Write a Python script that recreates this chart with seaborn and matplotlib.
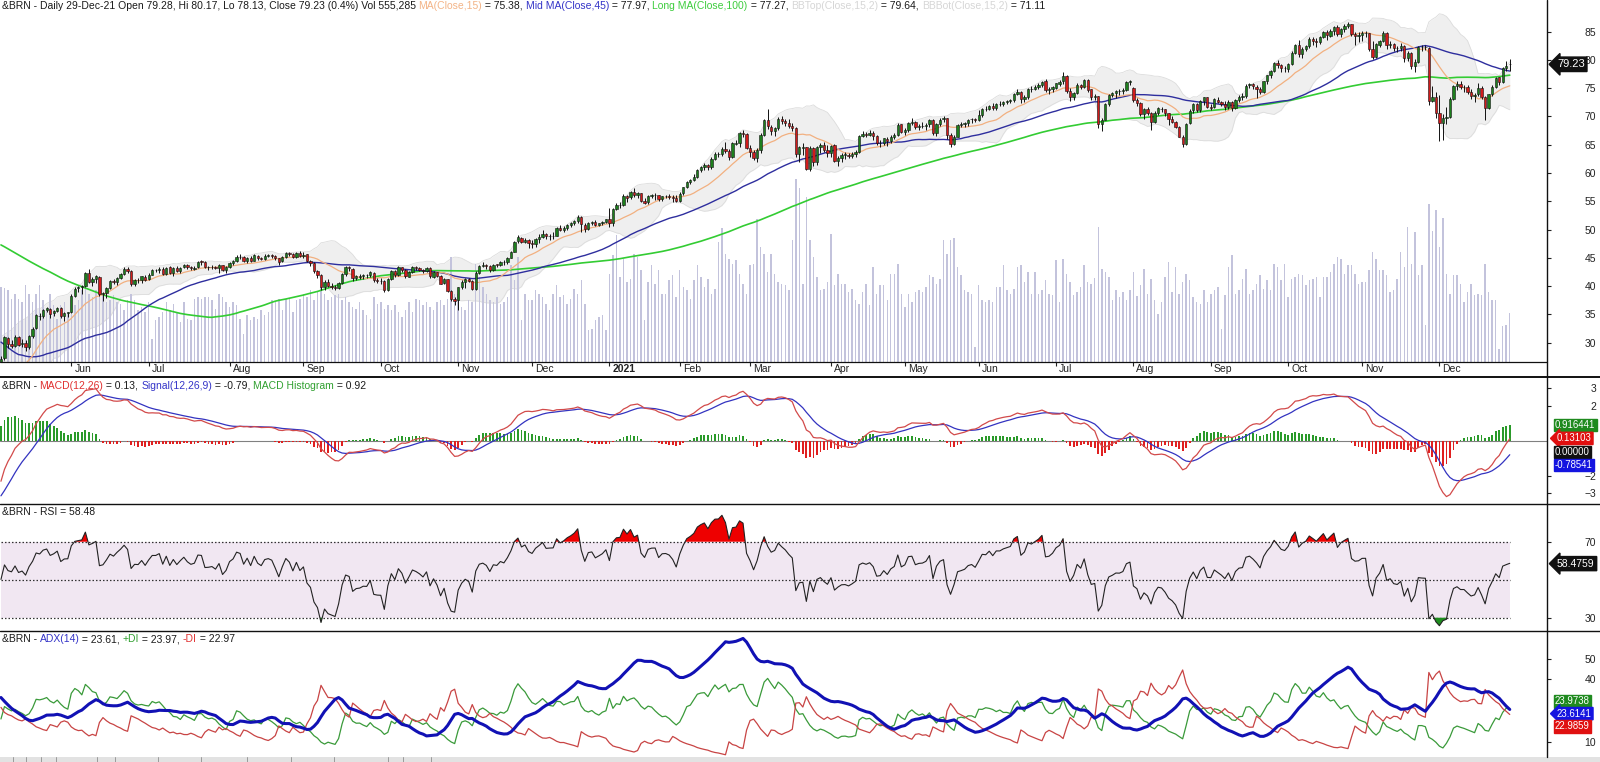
import numpy as np
import pandas as pd
import matplotlib
matplotlib.use("Agg")
import matplotlib.pyplot as plt
from matplotlib.lines import Line2D
from matplotlib.patches import Rectangle
import seaborn as sns

# ---------------- data (warm-up values estimated from the indicator start levels) -------------
warmup_close = [
    64.25, 64.34, 63.72, 64.20, 65.22, 65.34, 66.10, 66.17, 66.54, 66.14, 66.39, 67.20, 67.92, 68.16, 68.44, 66.00,
    66.25, 68.60, 68.91, 68.27, 65.44, 65.37, 64.98, 64.20, 64.49, 64.00, 64.62, 64.85, 65.20, 64.59, 63.21, 62.04,
    60.69, 59.32, 59.51, 59.81, 58.29, 58.16,
    54.45, 53.96, 55.28, 54.93, 54.47, 53.27, 54.01, 55.79, 56.34, 57.32, 57.67, 57.75, 59.12, 59.31, 58.50, 56.30,
    54.95, 53.43, 52.18, 50.52,
    51.90, 51.86, 51.13, 49.99, 45.27, 34.36, 37.22, 35.79, 33.22, 33.85, 30.05, 28.73, 24.88, 28.47, 26.98, 27.03,
    27.15, 27.39, 26.34, 24.93, 22.76, 22.74,
    24.74, 29.94, 34.11, 33.05, 31.87, 32.84, 31.48, 31.74, 29.60, 27.69, 27.82, 28.08, 25.57, 19.33, 20.37, 21.33,
    21.44, 19.99, 20.46, 22.54, 25.27, 26.44]
# highs / lows of the last 40 warm-up sessions (for the ADX start)
warmup_high = [50.0, 35.8, 38.2, 37.9, 35.2, 35.8, 33.1, 30.8, 29.4, 28.8, 30.0, 28.3, 28.2, 29.0, 27.8, 26.9, 25.1, 24.1,
               25.4, 30.2, 35.4, 34.4, 34.4, 33.7, 36.0, 33.0, 31.9, 29.6, 28.8, 28.9, 28.0, 25.2, 21.8, 22.1, 22.0, 21.5,
               21.0, 23.0, 26.4, 27.2]
warmup_low = [44.8, 31.0, 33.8, 35.2, 32.3, 31.7, 29.5, 28.4, 24.5, 24.5, 26.4, 25.2, 26.3, 26.7, 25.9, 24.6, 21.7, 21.6,
              23.6, 24.6, 29.9, 31.9, 31.3, 30.7, 31.3, 30.8, 29.4, 27.2, 26.8, 26.3, 25.1, 15.98, 18.6, 19.6, 20.4, 19.1,
              17.9, 20.4, 22.6, 25.3]

close = [
    27.20, 30.97, 29.72, 29.46, 30.97, 29.63, 29.98, 29.19, 31.13, 32.50, 34.81, 34.65, 35.75, 36.06, 35.13, 35.53, 36.17, 34.74, 35.29, 35.33,
    38.32, 39.57, 39.79, 39.99, 42.30, 40.80, 41.18, 41.73, 38.55, 38.73, 39.72, 40.96, 40.71, 41.51, 42.19, 43.08, 42.63, 40.31, 41.05, 41.02, 41.71, 41.15,
    42.03, 42.80, 42.80, 43.10, 42.08, 43.29, 42.35, 43.24, 42.72, 43.29, 43.79, 43.37, 43.14, 43.28, 44.32, 44.29, 43.31, 43.34, 43.41, 43.22, 43.75, 42.94, 43.30,
    44.15, 44.43, 45.17, 45.09, 44.40, 44.99, 44.50, 45.43, 44.96, 44.80, 45.37, 45.46, 45.37, 44.90, 44.35, 45.13, 45.86, 45.64, 45.09, 45.81, 45.28,
    45.58, 44.43, 44.07, 42.66, 42.01, 39.78, 40.79, 40.06, 39.83, 39.61, 40.53, 42.22, 43.30, 43.15, 41.44, 41.72, 41.77, 41.94, 41.92, 42.43, 41.03, 40.95,
    40.93, 39.27, 41.29, 42.65, 41.99, 43.34, 42.85, 41.72, 42.45, 43.32, 43.16, 42.93, 42.62, 43.16, 41.73, 42.46, 41.77, 40.46, 41.20, 39.12, 37.65, 37.46,
    39.81, 40.71, 41.23, 40.93, 39.45, 42.40, 43.61, 43.80, 43.53, 42.78, 43.82, 43.75, 44.34, 44.20, 44.96, 46.06, 47.86, 48.61, 47.80, 48.18, 47.59,
    47.42, 48.25, 48.71, 49.25, 48.79, 48.84, 48.86, 50.25, 49.97, 50.29, 50.76, 51.08, 51.50, 52.26, 50.91, 50.08, 51.20, 51.29, 50.86, 51.09, 51.34, 51.80,
    51.09, 53.60, 54.30, 54.38, 55.99, 55.66, 56.58, 56.06, 56.42, 55.10, 54.75, 55.90, 56.08, 56.10, 55.41, 55.88, 55.91, 55.81, 55.53, 55.04,
    56.35, 57.46, 58.46, 58.84, 59.34, 60.56, 61.09, 61.47, 61.14, 62.43, 63.30, 63.35, 64.34, 63.93, 62.91, 65.24, 65.37, 67.04, 66.88, 64.42,
    63.69, 62.70, 64.07, 66.74, 69.36, 68.24, 67.52, 67.90, 69.63, 69.22, 68.88, 68.39, 68.00, 63.28, 64.53, 64.62, 60.79, 64.41, 61.95, 64.57, 64.98, 64.14, 63.54,
    64.86, 62.15, 62.74, 63.16, 63.20, 62.95, 63.28, 63.67, 66.58, 66.94, 66.77, 67.05, 66.57, 65.32, 65.40, 66.11, 65.65, 66.42, 66.76, 68.56, 67.25,
    67.56, 68.88, 68.96, 68.09, 68.28, 68.32, 68.55, 69.32, 67.05, 68.71, 69.46, 69.71, 66.66, 65.11, 66.44, 68.46, 68.65, 68.87, 69.46, 69.63, 69.32,
    70.25, 71.35, 71.31, 71.89, 71.49, 72.22, 72.22, 72.52, 72.69, 72.86, 73.99, 74.39, 73.08, 73.51, 74.90, 74.81, 75.19, 75.56, 76.18, 74.68, 74.76, 75.13,
    75.84, 76.17, 77.16, 74.53, 73.43, 74.12, 75.55, 75.16, 76.49, 74.76, 73.47, 73.59, 68.62, 69.35, 72.23, 73.79, 74.10, 74.50, 74.48, 74.74, 76.05, 76.33,
    72.89, 72.41, 70.38, 71.29, 70.70, 69.04, 70.63, 71.44, 71.31, 70.59, 69.51, 69.03, 68.23, 66.45, 65.18, 68.75, 71.05, 72.25, 71.07, 72.70, 73.41, 71.63,
    71.59, 73.03, 72.61, 72.22, 71.69, 72.60, 71.45, 72.92, 73.51, 73.60, 75.46, 75.67, 75.34, 74.92, 74.36, 76.19, 77.25, 78.09, 79.53, 79.09, 78.64, 78.52,
    79.28, 81.26, 82.56, 81.08, 81.95, 82.39, 83.65, 83.42, 83.18, 84.00, 84.86, 84.33, 85.08, 85.82, 84.61, 85.53, 85.99, 86.40, 84.58, 84.32, 84.38,
    84.71, 84.72, 81.99, 80.54, 82.74, 83.43, 84.78, 82.64, 82.87, 82.17, 82.05, 82.43, 80.28, 81.24, 78.89, 79.70, 82.31, 82.25, 82.22, 72.72, 73.44, 70.57,
    68.87, 69.67, 69.88, 73.08, 75.44, 75.82, 75.15, 75.15, 74.39, 73.70, 73.88, 75.02, 73.52, 71.52, 73.98, 75.29, 76.85, 76.14, 78.60, 78.94, 79.23]

open_ = [
    26.4, 27.3, 30.9, 29.8, 29.5, 31.0, 29.7, 30.0, 29.2, 31.1, 32.6, 34.8, 34.7, 35.8, 36.0, 35.2, 35.6, 36.1, 34.7, 35.3,
    35.4, 38.3, 39.6, 39.8, 40.0, 42.3, 40.8, 41.2, 41.7, 38.6, 38.7, 39.7, 40.9, 40.7, 41.5, 42.2, 43.1, 42.6, 40.3, 41.0, 41.0, 41.7,
    41.2, 42.0, 42.8, 42.8, 43.1, 42.1, 43.3, 42.4, 43.2, 42.7, 43.3, 43.8, 43.4, 43.1, 43.3, 44.3, 44.3, 43.3, 43.3, 43.4, 43.2, 43.7, 42.9,
    43.4, 44.1, 44.4, 45.2, 45.1, 44.4, 45.0, 44.5, 45.4, 45.0, 44.8, 45.4, 45.5, 45.4, 44.9, 44.4, 45.1, 45.9, 45.6, 45.1, 45.8,
    45.3, 45.6, 44.4, 44.1, 42.7, 42.0, 39.8, 40.8, 40.1, 39.8, 39.6, 40.5, 42.2, 43.3, 43.1, 41.4, 41.7, 41.8, 41.9, 41.9, 42.4, 41.0,
    40.9, 40.9, 39.3, 41.3, 42.6, 42.0, 43.3, 42.9, 41.7, 42.5, 43.3, 43.2, 42.9, 42.6, 43.2, 41.7, 42.5, 41.8, 40.5, 41.2, 39.1, 37.7,
    37.5, 39.8, 40.7, 41.2, 40.9, 39.5, 42.4, 43.6, 43.8, 43.5, 42.8, 43.8, 43.8, 44.3, 44.2, 45.0, 46.1, 47.9, 48.6, 47.8, 48.2,
    47.6, 47.4, 48.3, 48.7, 49.3, 48.8, 48.8, 48.9, 50.3, 50.0, 50.3, 50.8, 51.1, 51.5, 52.3, 50.9, 50.1, 51.2, 51.3, 50.9, 51.1, 51.3,
    51.9, 51.1, 53.6, 54.3, 54.4, 56.0, 55.7, 56.6, 56.1, 56.4, 55.1, 54.8, 55.9, 56.1, 56.1, 55.4, 55.9, 55.9, 55.8, 55.5,
    55.0, 56.4, 57.5, 58.5, 58.8, 59.3, 60.6, 61.1, 61.5, 61.1, 62.4, 63.3, 63.4, 64.3, 63.9, 62.9, 65.2, 65.4, 67.0, 66.9,
    64.4, 63.7, 62.7, 64.1, 66.7, 69.4, 68.2, 67.5, 67.9, 69.6, 69.2, 68.9, 68.4, 68.0, 63.3, 64.5, 64.6, 60.8, 64.4, 62.0, 64.6, 65.0, 64.1,
    63.5, 64.9, 62.2, 62.7, 63.2, 63.2, 63.0, 63.3, 63.7, 66.6, 66.9, 66.8, 67.1, 66.6, 65.3, 65.4, 66.1, 65.7, 66.4, 66.8, 68.6,
    67.3, 67.6, 68.9, 69.0, 68.1, 68.3, 68.3, 68.6, 69.3, 67.1, 68.7, 69.5, 69.7, 66.7, 65.1, 66.4, 68.5, 68.7, 68.9, 69.5, 69.6,
    69.3, 70.3, 71.4, 71.3, 71.9, 71.5, 72.2, 72.2, 72.5, 72.7, 72.9, 74.0, 74.4, 73.1, 73.5, 74.9, 74.8, 75.2, 75.6, 76.2, 74.7, 74.8,
    75.1, 75.8, 76.2, 77.2, 74.5, 73.4, 74.1, 75.6, 75.2, 76.5, 74.8, 73.5, 73.6, 68.6, 69.4, 72.2, 73.8, 74.1, 74.5, 74.5, 74.7, 76.1,
    75.1, 72.9, 72.4, 70.4, 71.3, 70.7, 69.0, 70.6, 71.4, 71.3, 70.6, 69.5, 69.0, 68.2, 66.4, 65.2, 68.8, 71.1, 72.2, 71.1, 72.7, 73.4,
    71.6, 71.6, 73.0, 72.6, 72.2, 71.7, 72.6, 71.5, 72.9, 73.5, 73.6, 75.5, 75.7, 75.3, 74.9, 74.4, 76.2, 77.3, 78.1, 79.5, 79.1, 78.6,
    78.4, 79.3, 81.3, 82.6, 81.1, 82.0, 82.4, 83.7, 83.4, 83.2, 84.0, 84.9, 84.3, 85.1, 85.8, 84.6, 85.5, 86.0, 86.4, 84.6, 84.3,
    84.4, 84.7, 84.7, 82.0, 80.5, 82.7, 83.4, 84.8, 82.6, 82.9, 82.2, 82.1, 82.4, 80.3, 81.2, 78.9, 79.7, 82.3, 82.3, 82.2, 72.7, 73.4,
    70.6, 68.9, 69.7, 69.9, 73.1, 75.4, 75.8, 75.2, 75.2, 74.4, 73.7, 73.9, 75.0, 73.5, 71.5, 74.0, 75.3, 76.9, 76.1, 78.6, 79.28]

high = [
    27.6, 31.2, 31.0, 30.5, 31.3, 31.1, 30.6, 30.4, 31.3, 32.8, 35.0, 35.3, 35.9, 36.4, 36.1, 35.7, 36.4, 36.3, 35.5, 35.5,
    38.6, 39.9, 40.0, 40.2, 42.5, 43.0, 41.6, 41.9, 41.8, 39.0, 39.9, 41.1, 41.3, 41.6, 42.4, 43.4, 43.3, 42.8, 41.3, 41.4, 41.8, 42.0,
    42.3, 43.1, 43.0, 43.4, 43.3, 43.4, 43.5, 43.4, 43.6, 43.4, 44.0, 43.9, 43.5, 43.6, 44.4, 44.6, 44.4, 43.5, 43.7, 43.6, 43.9, 43.8, 43.5,
    44.3, 44.6, 45.5, 45.6, 45.3, 45.2, 45.3, 45.6, 45.5, 45.1, 45.6, 45.7, 45.6, 45.5, 45.0, 45.3, 46.0, 46.1, 45.9, 46.0, 46.3,
    46.1, 45.7, 44.6, 44.3, 42.9, 42.2, 41.0, 41.3, 40.5, 40.2, 40.8, 42.3, 43.6, 43.6, 43.2, 42.0, 42.2, 42.2, 42.2, 42.7, 42.5, 41.4,
    41.4, 41.0, 41.5, 42.8, 42.8, 43.5, 43.4, 43.0, 42.6, 43.5, 43.5, 43.3, 43.1, 43.4, 43.3, 42.6, 42.5, 41.9, 41.4, 41.3, 39.4, 38.1,
    39.9, 41.0, 41.5, 41.5, 41.1, 42.6, 43.8, 44.2, 44.0, 43.7, 44.0, 44.0, 44.5, 44.6, 45.1, 46.3, 48.0, 49.0, 48.7, 48.5, 48.4,
    48.2, 48.5, 49.2, 49.9, 49.4, 49.3, 49.6, 50.5, 50.8, 50.6, 51.0, 51.4, 51.7, 52.5, 52.4, 51.1, 51.3, 51.6, 51.7, 51.2, 51.6, 51.9,
    53.9, 53.9, 54.7, 54.9, 56.3, 56.2, 56.8, 57.4, 56.7, 56.4, 55.5, 56.2, 56.3, 56.5, 56.2, 56.0, 56.2, 56.3, 56.2, 56.1,
    56.7, 57.6, 58.6, 59.0, 59.8, 60.8, 61.3, 61.7, 61.6, 62.8, 63.8, 63.8, 64.6, 65.5, 64.2, 65.5, 65.9, 67.2, 67.7, 67.0,
    64.9, 64.0, 64.5, 67.0, 69.5, 71.4, 68.5, 68.2, 69.9, 70.0, 69.6, 69.5, 68.9, 68.2, 64.8, 65.4, 64.6, 64.7, 64.6, 64.8, 65.4, 65.5, 64.9,
    65.0, 65.2, 63.1, 63.6, 63.8, 63.6, 63.8, 64.1, 66.8, 67.4, 67.3, 67.6, 67.4, 66.7, 65.9, 66.2, 66.4, 66.7, 67.1, 68.8, 68.7,
    67.9, 69.1, 69.7, 69.2, 68.6, 69.0, 68.9, 69.6, 69.5, 68.9, 69.7, 70.0, 69.8, 67.0, 66.8, 68.7, 69.0, 69.1, 69.6, 69.8, 69.8,
    71.1, 71.5, 71.9, 72.1, 72.3, 72.4, 72.8, 72.8, 73.0, 73.1, 74.2, 74.9, 74.5, 73.8, 75.0, 75.4, 75.6, 76.0, 76.3, 76.6, 75.2, 75.4,
    76.0, 76.4, 77.8, 77.3, 75.1, 74.4, 75.9, 75.8, 76.7, 76.6, 74.9, 74.0, 73.7, 69.7, 72.4, 73.9, 74.3, 74.6, 74.8, 75.0, 76.2, 76.5,
    75.3, 73.3, 72.5, 71.5, 71.6, 70.8, 70.9, 71.6, 71.6, 71.4, 70.7, 70.0, 69.2, 68.4, 66.7, 68.9, 71.3, 72.4, 72.4, 72.9, 73.5, 73.5,
    72.2, 73.3, 73.5, 72.8, 72.7, 72.9, 72.8, 73.1, 73.8, 74.1, 75.7, 76.0, 76.0, 75.5, 75.2, 76.3, 77.4, 78.2, 79.7, 80.0, 79.3, 79.0,
    79.4, 81.5, 82.8, 83.5, 82.3, 82.7, 84.0, 84.0, 83.9, 84.2, 85.1, 85.3, 85.4, 86.0, 86.1, 85.7, 86.3, 86.7, 86.4, 84.9, 84.9,
    85.1, 85.2, 84.8, 83.3, 83.0, 83.6, 85.1, 85.0, 83.4, 83.0, 82.5, 83.0, 82.6, 81.6, 81.4, 80.2, 82.5, 82.7, 82.6, 82.3, 75.4, 74.4,
    73.8, 70.5, 71.7, 73.4, 75.6, 76.3, 76.2, 75.5, 75.5, 74.8, 74.1, 76.0, 75.4, 73.7, 74.0, 75.5, 76.9, 76.9, 78.7, 79.8, 80.17]

low = [
    25.9, 27.0, 29.1, 29.0, 29.3, 29.4, 29.3, 28.6, 28.9, 30.8, 32.4, 34.0, 34.4, 35.5, 34.3, 34.8, 35.4, 34.4, 33.9, 34.6,
    35.2, 38.0, 38.9, 38.6, 39.8, 40.5, 40.1, 40.6, 38.3, 37.3, 37.9, 39.5, 40.4, 40.2, 41.3, 41.9, 42.4, 40.1, 40.0, 40.6, 40.6, 40.9,
    41.0, 41.9, 42.5, 42.4, 42.0, 41.9, 42.1, 41.8, 42.5, 42.3, 43.2, 43.1, 42.9, 42.8, 43.2, 43.8, 43.2, 42.9, 43.0, 43.0, 42.4, 42.6, 42.3,
    43.2, 43.8, 44.3, 44.8, 44.2, 44.1, 44.3, 44.4, 44.6, 44.6, 44.7, 45.1, 44.9, 44.6, 43.8, 44.3, 45.0, 45.4, 44.9, 44.9, 45.2,
    45.0, 44.2, 43.6, 42.3, 41.5, 39.4, 39.3, 39.8, 39.5, 39.3, 39.5, 40.4, 41.8, 42.7, 40.9, 41.1, 41.2, 41.3, 41.5, 41.7, 40.8, 40.5,
    40.3, 38.9, 39.2, 41.0, 41.7, 41.8, 42.5, 41.5, 41.6, 42.3, 42.8, 42.6, 42.3, 42.5, 41.5, 41.5, 41.6, 40.3, 40.3, 38.9, 37.3, 36.6,
    35.7, 39.5, 39.6, 40.7, 39.3, 39.4, 42.2, 43.4, 43.1, 42.5, 42.6, 43.3, 43.6, 43.8, 44.0, 44.9, 46.0, 47.7, 47.6, 47.6, 46.8,
    46.8, 46.9, 47.6, 48.5, 48.4, 48.2, 48.3, 48.8, 49.7, 49.6, 50.0, 50.5, 50.8, 51.2, 49.6, 49.6, 50.0, 50.9, 50.7, 50.6, 50.9, 51.1,
    50.4, 50.7, 53.4, 53.9, 54.2, 54.8, 55.4, 55.8, 55.6, 54.8, 54.5, 54.6, 55.6, 55.2, 55.0, 55.0, 55.5, 55.4, 54.8, 54.8,
    54.9, 56.2, 57.4, 58.0, 58.6, 59.1, 60.1, 60.6, 60.6, 60.8, 62.3, 62.8, 63.0, 63.6, 62.3, 62.7, 64.9, 64.6, 66.4, 64.2,
    62.8, 62.3, 62.0, 63.5, 66.6, 67.8, 66.7, 66.5, 67.6, 68.7, 68.3, 67.9, 67.4, 62.8, 61.9, 63.2, 60.5, 60.3, 61.2, 61.5, 63.5, 63.7, 62.9,
    62.8, 61.9, 61.2, 62.0, 62.5, 62.6, 62.6, 62.9, 63.5, 66.3, 66.3, 66.5, 65.8, 64.9, 64.6, 65.0, 64.8, 65.3, 66.0, 66.6, 67.0,
    66.8, 67.2, 68.5, 67.8, 67.6, 67.9, 67.7, 68.2, 66.8, 66.6, 68.4, 69.1, 66.1, 64.6, 64.9, 66.3, 68.1, 68.2, 68.4, 68.9, 69.0,
    69.2, 69.9, 71.0, 71.1, 71.1, 71.2, 71.8, 71.9, 72.2, 72.3, 72.6, 73.8, 72.4, 72.5, 73.1, 74.4, 74.6, 74.9, 75.3, 74.3, 73.9, 74.4,
    74.8, 75.4, 75.7, 74.2, 72.8, 73.0, 74.0, 74.8, 75.0, 74.3, 73.0, 72.9, 68.0, 67.5, 69.3, 71.8, 73.4, 73.3, 73.8, 73.9, 74.5, 75.5,
    72.5, 71.8, 70.1, 69.5, 70.3, 67.7, 68.9, 70.3, 70.8, 70.1, 68.5, 68.9, 68.0, 66.3, 64.6, 64.9, 68.6, 70.6, 70.8, 70.8, 72.0, 71.5,
    71.1, 71.5, 72.3, 71.9, 71.1, 71.3, 71.0, 71.3, 72.5, 72.9, 73.3, 75.1, 74.9, 73.3, 73.9, 74.2, 75.8, 76.8, 77.8, 78.6, 77.9, 77.9,
    77.9, 79.1, 81.0, 80.6, 80.3, 81.5, 82.2, 82.7, 82.3, 82.9, 83.8, 83.6, 84.0, 84.4, 84.3, 84.1, 85.0, 85.6, 84.2, 82.7, 83.1,
    83.3, 84.0, 81.5, 80.1, 80.4, 82.3, 83.2, 82.0, 82.2, 81.6, 81.4, 81.5, 79.7, 79.9, 78.4, 77.9, 79.5, 81.6, 81.8, 72.1, 72.6, 69.8,
    65.7, 65.8, 68.7, 69.8, 72.9, 74.6, 74.8, 74.3, 73.9, 73.1, 72.6, 73.7, 73.1, 69.3, 71.3, 73.6, 75.1, 75.6, 75.9, 78.1, 78.13]

volume_k = [
    855, 845, 820, 718, 775, 718, 684, 878, 775, 684, 775, 878, 707, 604, 775, 650, 490, 650, 684, 570,
    547, 650, 707, 820, 832, 775, 741, 820, 878, 775, 684, 707, 764, 684, 661, 593, 707, 775, 707, 593, 627, 570,
    684, 262, 479, 513, 570, 684, 593, 661, 570, 456, 684, 490, 479, 718, 741, 718, 741, 741, 707, 604, 775, 741, 684,
    627, 684, 650, 490, 319, 536, 479, 513, 490, 593, 536, 570, 707, 684, 718, 593, 718, 718, 570, 707, 718,
    775, 741, 820, 707, 798, 855, 775, 707, 741, 764, 775, 707, 741, 684, 627, 604, 684, 593, 536, 490, 741, 661,
    684, 604, 650, 593, 650, 570, 513, 593, 684, 570, 718, 707, 650, 684, 627, 593, 684, 707, 650, 718, 1197, 775,
    775, 627, 593, 707, 684, 1117, 969, 855, 775, 707, 684, 741, 661, 684, 741, 1106, 935, 1197, 479, 775, 707,
    707, 820, 775, 741, 661, 593, 775, 878, 741, 764, 661, 718, 832, 775, 935, 661, 365, 376, 479, 513, 536, 365,
    1003, 1220, 1448, 969, 1174, 912, 946, 1231, 1197, 1049, 479, 912, 1106, 889, 1049, 775, 775, 935, 992, 741,
    1049, 855, 820, 718, 935, 1106, 969, 855, 946, 775, 832, 1368, 1528, 1231, 1174, 1117, 1163, 1003, 889, 775,
    1106, 1117, 1630, 1311, 1231, 1026, 1231, 1003, 912, 889, 878, 820, 1391, 2086, 1984, 889, 1881, 1391, 1197, 969, 820, 832, 912,
    1459, 878, 1003, 889, 889, 798, 832, 707, 661, 798, 889, 650, 1083, 775, 878, 878, 707, 1003, 1003, 1117, 775,
    627, 775, 684, 798, 820, 798, 855, 992, 969, 889, 946, 1391, 1231, 1391, 1414, 1083, 992, 820, 798, 775, 171,
    878, 707, 684, 707, 684, 855, 855, 1106, 820, 775, 832, 1083, 1106, 912, 1026, 775, 1026, 775, 820, 935, 775, 764,
    1163, 684, 1174, 1003, 912, 764, 798, 855, 1106, 912, 889, 950, 1539, 1060, 1026, 969, 707, 820, 741, 798, 707, 820,
    1026, 752, 878, 1060, 775, 946, 707, 547, 684, 969, 1140, 798, 1083, 775, 912, 1003, 935, 741, 684, 661, 820, 684,
    775, 820, 855, 376, 764, 1083, 1220, 775, 820, 946, 1060, 775, 820, 889, 992, 832, 935, 820, 1117, 1083, 935, 1117,
    741, 946, 969, 1003, 992, 878, 935, 946, 969, 741, 969, 969, 1026, 1117, 1197, 1174, 1003, 1106, 1106, 1003, 889,
    912, 912, 1049, 1254, 1174, 1049, 1049, 992, 798, 820, 946, 1254, 1083, 1539, 1117, 1482, 992, 1100, 422, 1801, 1493, 1733,
    1311, 1642, 1003, 775, 992, 992, 889, 684, 798, 889, 764, 775, 764, 1117, 798, 707, 707, 148, 410, 422, 555]

holidays = ["2020-12-25", "2021-01-01", "2021-04-02"]
month_labels = ["Jun", "Jul", "Aug", "Sep", "Oct", "Nov", "Dec", "2021", "Feb", "Mar", "Apr", "May",
                "Jun", "Jul", "Aug", "Sep", "Oct", "Nov", "Dec"]
price_ticks = [30, 35, 40, 45, 50, 55, 60, 65, 70, 75, 80, 85]
macd_ticks = [-3, -2, 2, 3]
rsi_ticks = [30, 70]
adx_ticks = [10, 40, 50]

# last-value boxes: (value, label, colour, vertical shift in px)
price_box = (79.23, "79.23")
macd_boxes = [(0.916441, "0.916441", "#1f8a1f", 0), (0.13103, "0.13103", "#e01010", 0),
              (0.0, "0.00000", "#111111", -11), (-0.78541, "-0.78541", "#1414e0", -10.5)]
rsi_box = (58.4759, "58.4759")
adx_boxes = [(23.9738, "23.9738", "#1f8a1f", 11.5), (23.6141, "23.6141", "#1414e0", 0),
             (22.9859, "22.9859", "#e01010", -11.5)]

price_title = [("&BRN - Daily 29-Dec-21 Open 79.28, Hi 80.17, Lo 78.13, Close 79.23 (0.4%) Vol 555,285 ", "#1a1a1a"),
               ("MA(Close,15)", "#f3b487"), (" = 75.38, ", "#1a1a1a"),
               ("Mid MA(Close,45)", "#3434c8"), (" = 77.97, ", "#1a1a1a"),
               ("Long MA(Close,100)", "#3dcc3d"), (" = 77.27, ", "#1a1a1a"),
               ("BBTop(Close,15,2)", "#d6d6d6"), (" = 79.64, ", "#1a1a1a"),
               ("BBBot(Close,15,2)", "#d6d6d6"), (" = 71.11", "#1a1a1a")]
macd_title = [("&BRN - ", "#1a1a1a"), ("MACD(12,26)", "#e03030"), (" = 0.13, ", "#1a1a1a"),
              ("Signal(12,26,9)", "#3434c8"), (" = -0.79, ", "#1a1a1a"),
              ("MACD Histogram", "#30a030"), (" = 0.92", "#1a1a1a")]
rsi_title = [("&BRN - RSI = 58.48", "#1a1a1a")]
adx_title = [("&BRN - ", "#1a1a1a"), ("ADX(14)", "#3434c8"), (" = 23.61, ", "#1a1a1a"),
             ("+DI", "#30a030"), (" = 23.97, ", "#1a1a1a"), ("-DI", "#e03030"), (" = 22.97", "#1a1a1a")]

# ---------------- indicators ----------------
nw = len(warmup_close)
allc = pd.Series(warmup_close + close, dtype=float)

ma15 = allc.rolling(15).mean()
ma45 = allc.rolling(45).mean()
ma100 = allc.rolling(100).mean()
sd15 = allc.rolling(15).std(ddof=0)
bbt = ma15 + 2 * sd15
bbb = ma15 - 2 * sd15

macd = allc.ewm(span=12, adjust=False).mean() - allc.ewm(span=26, adjust=False).mean()
sig = macd.ewm(span=9, adjust=False).mean()
hist = macd - sig

d = allc.diff().fillna(0)
ag = d.clip(lower=0).ewm(alpha=1 / 14, adjust=False).mean()
al = (-d.clip(upper=0)).ewm(alpha=1 / 14, adjust=False).mean()
rsi = 100 - 100 / (1 + ag / al.replace(0, 1e-9))

nwa = len(warmup_high)
ac = pd.Series(warmup_close[-nwa:] + close, dtype=float)
ah = pd.Series(warmup_high + high, dtype=float)
alo = pd.Series(warmup_low + low, dtype=float)
pc = ac.shift(1).fillna(ac.iloc[0])
tr = pd.concat([ah - alo, (ah - pc).abs(), (alo - pc).abs()], axis=1).max(axis=1)
up = (ah - ah.shift(1)).fillna(0)
dn = (alo.shift(1) - alo).fillna(0)
pdm = pd.Series(np.where((up > dn) & (up > 0), up, 0.0))
mdm = pd.Series(np.where((dn > up) & (dn > 0), dn, 0.0))
atr = tr.ewm(alpha=1 / 14, adjust=False).mean().replace(0, 1e-9)
pdi = 100 * pdm.ewm(alpha=1 / 14, adjust=False).mean() / atr
mdi = 100 * mdm.ewm(alpha=1 / 14, adjust=False).mean() / atr
dx = 100 * (pdi - mdi).abs() / (pdi + mdi).replace(0, 1e-9)
adx = dx.ewm(alpha=1 / 14, adjust=False).mean()

def vis(s, k=nw):
    return np.asarray(s.iloc[k:], dtype=float)

ma15, ma45, ma100, bbt, bbb = vis(ma15), vis(ma45), vis(ma100), vis(bbt), vis(bbb)
macd, sig, hist, rsi = vis(macd), vis(sig), vis(hist), vis(rsi)
pdi, mdi, adx = vis(pdi, nwa), vis(mdi, nwa), vis(adx, nwa)

n = len(close)
xs = np.arange(n)
dates = pd.bdate_range("2020-05-04", "2021-12-29")
dates = dates[~dates.isin(pd.to_datetime(holidays))][:n]
month_idx = [i for i in range(1, n) if dates[i].month != dates[i - 1].month]

# ---------------- figure ----------------
sns.set_theme(style="white")
plt.rcParams["font.family"] = ["Liberation Sans", "DejaVu Sans"]
W, H = 1600, 762
fig = plt.figure(figsize=(16, 7.62), dpi=100)
fig.patch.set_facecolor("white")
renderer = fig.canvas.get_renderer()

SEP_X = 1547
P_TOP, P_BOT = 0, 361.7
M_TOP, M_BOT = 376.7, 504.3
R_TOP, R_BOT = 504.3, 630.7
A_TOP, A_BOT = 630.7, 757
XLIM = (-0.96 / 3.517, (SEP_X - 0.96) / 3.517)

def ax_px(x0, y0, x1, y1):
    a = fig.add_axes([x0 / W, 1 - y1 / H, (x1 - x0) / W, (y1 - y0) / H])
    a.set_xlim(*XLIM)
    for s in a.spines.values():
        s.set_visible(False)
    a.grid(False)
    return a

def text_w(s, size, weight="normal"):
    t1 = fig.text(0, 0, s + "|", fontsize=size, weight=weight)
    t2 = fig.text(0, 0, "|", fontsize=size, weight=weight)
    w = t1.get_window_extent(renderer).width - t2.get_window_extent(renderer).width
    t1.remove(); t2.remove()
    return w

FS = 7.0
full = "".join(p for p, _ in price_title)
FS = FS * 1037.0 / text_w(full, FS)
BFS = FS * 0.93

def rich(x_px, y_px, pieces):
    xx = x_px
    for s, c in pieces:
        fig.text(xx / W, 1 - y_px / H, s, color=c, fontsize=FS, va="center", ha="left")
        xx += text_w(s, FS)

def right_ticks(a, ticks):
    a.set_yticks(ticks)
    a.tick_params(axis="y", which="major", direction="out", length=3, width=0.8, color="#222222",
                  left=False, labelleft=False, right=True, labelright=True, labelsize=FS,
                  pad=(1596 - SEP_X - 4.2) / 1.389, labelcolor="#222222")
    for t in a.yaxis.get_major_ticks():
        t.label2.set_horizontalalignment("right")

def value_box(a, val, text, fc, dy=0, arrow=False, size=None, pad=0.12):
    style = ("larrow,pad=%.2f" % pad) if arrow else ("square,pad=%.2f" % pad)
    a.annotate(text, xy=(1, val), xycoords=("axes fraction", "data"), xytext=(10 if arrow else 8, dy),
               textcoords="offset pixels", ha="left", va="center", fontsize=size or BFS, color="white",
               bbox=dict(boxstyle=style, fc=fc, ec=fc), annotation_clip=False, zorder=10)

# ---- price panel: BB fill (bottom), volume (middle), lines + candles (top)
ax_bb = ax_px(0, P_TOP, SEP_X, P_BOT)
ax_bb.set_ylim(26.64, 90.6)
ax_bb.fill_between(xs, bbb, bbt, color="#efefef", lw=0)
ax_bb.plot(xs, bbt, color="#dcdcdc", lw=0.6)
ax_bb.plot(xs, bbb, color="#dcdcdc", lw=0.6)
ax_bb.set_xticks([]); ax_bb.set_yticks([])

ax_v = ax_px(0, P_TOP, SEP_X, P_BOT)
ax_v.patch.set_alpha(0)
ax_v.set_ylim(0, 361.7 * 11.4)
ax_v.bar(xs, volume_k, width=0.42, color="#c3c3dc", lw=0)
ax_v.set_xticks([]); ax_v.set_yticks([])

ax_p = ax_px(0, P_TOP, SEP_X, P_BOT)
ax_p.patch.set_alpha(0)
ax_p.set_ylim(26.64, 90.6)
sns.lineplot(x=xs, y=ma100, ax=ax_p, color="#33cc33", lw=1.2, legend=False)
sns.lineplot(x=xs, y=ma45, ax=ax_p, color="#2e2e9e", lw=1.0, legend=False)
sns.lineplot(x=xs, y=ma15, ax=ax_p, color="#f2b080", lw=0.9, legend=False)
o = np.array(open_); c = np.array(close); h = np.array(high); l = np.array(low)
upc = c >= o
ax_p.vlines(xs, l, h, color="#111111", lw=0.7, zorder=3)
body = np.maximum(np.abs(c - o), 0.08)
ax_p.bar(xs, body, bottom=np.minimum(o, c), width=0.66,
         color=np.where(upc, "#1d7f1d", "#d11b1b"), edgecolor="#111111", lw=0.4, zorder=4)
ax_p.set_xticks(month_idx)
ax_p.set_xticklabels([""] * len(month_idx))
ax_p.tick_params(axis="x", direction="out", length=3, width=0.8, color="#222222", bottom=True)
right_ticks(ax_p, price_ticks)
for i, lab in zip(month_idx, month_labels):
    ax_p.annotate(lab, xy=(i, 0), xycoords=("data", "axes fraction"), xytext=(3, -7),
                  textcoords="offset pixels", ha="left", va="center", fontsize=FS, color="#222222",
                  weight="bold" if lab == "2021" else "normal", annotation_clip=False)
value_box(ax_p, price_box[0], price_box[1], "#111111", arrow=True, size=FS * 1.08, pad=0.2)

# ---- MACD panel
ax_m = ax_px(0, M_TOP, SEP_X, M_BOT)
ax_m.set_ylim(-3.634, 3.657)
ax_m.axhline(0, color="#808080", lw=0.8, zorder=1)
ax_m.bar(xs, hist, width=0.5, color=np.where(hist >= 0, "#2a9a2a", "#e02020"), lw=0, zorder=2)
sns.lineplot(x=xs, y=sig, ax=ax_m, color="#3333c0", lw=0.9, legend=False)
sns.lineplot(x=xs, y=macd, ax=ax_m, color="#d24a4a", lw=0.9, legend=False)
ax_m.set_xticks([])
right_ticks(ax_m, macd_ticks)
for k, (v, t, col, dy) in enumerate(macd_boxes):
    value_box(ax_m, v, t, col, dy=dy, arrow=(k == 1))

# ---- RSI panel
ax_r = ax_px(0, R_TOP, SEP_X, R_BOT)
ax_r.set_ylim(23.16, 89.7)
ax_r.fill_between([0, n - 1], 30, 70, color="#f1e7f2", lw=0, zorder=0)
ax_r.hlines([30, 50, 70], 0, n - 1, colors="#333333", linestyles=(0, (1.2, 1.6)), lw=0.9, zorder=1)
ax_r.fill_between(xs, 70, rsi, where=rsi > 70, interpolate=True, color="#ee0000", lw=0, zorder=2)
ax_r.fill_between(xs, 30, rsi, where=rsi < 30, interpolate=True, color="#1e8e1e", lw=0, zorder=2)
sns.lineplot(x=xs, y=rsi, ax=ax_r, color="#222222", lw=0.8, legend=False)
ax_r.set_xticks([])
right_ticks(ax_r, rsi_ticks)
value_box(ax_r, rsi_box[0], rsi_box[1], "#111111", arrow=True, size=FS * 1.0, pad=0.2)

# ---- ADX panel
ax_a = ax_px(0, A_TOP, SEP_X, A_BOT)
ax_a.set_ylim(2.8, 63.4)
sns.lineplot(x=xs, y=pdi, ax=ax_a, color="#3a9a3a", lw=0.9, legend=False)
sns.lineplot(x=xs, y=mdi, ax=ax_a, color="#c84444", lw=0.9, legend=False)
sns.lineplot(x=xs, y=adx, ax=ax_a, color="#1111b4", lw=2.2, legend=False)
ax_a.set_xticks([])
right_ticks(ax_a, adx_ticks)
for k, (v, t, col, dy) in enumerate(adx_boxes):
    value_box(ax_a, v, t, col, dy=dy, arrow=(k == 1))

for a in (ax_p, ax_m, ax_r, ax_a):
    a.set_xlabel(""); a.set_ylabel("")

# ---- separators, titles, bottom strip
def hline(y, x0, x1, lw=1.0, col="#111111"):
    fig.add_artist(Line2D([x0 / W, x1 / W], [1 - y / H, 1 - y / H], transform=fig.transFigure, color=col, lw=lw))

hline(P_BOT, 0, SEP_X, 0.9)
hline(M_TOP, 0, W, 1.4)
hline(M_BOT, 0, W, 1.0)
hline(R_BOT, 0, W, 1.0)
fig.add_artist(Line2D([SEP_X / W, SEP_X / W], [1 - A_BOT / H, 1], transform=fig.transFigure, color="#111111", lw=1.0))
fig.add_artist(Rectangle((0, 0), 1, (H - A_BOT) / H, transform=fig.transFigure, fc="#e2e2e2", ec="none"))
for xt in [13, 26, 41, 56, 97, 115, 158, 201, 247, 291, 334, 388, 403, 431]:
    fig.add_artist(Line2D([xt / W, xt / W], [0, (H - A_BOT) / H], transform=fig.transFigure, color="#9a9a9a", lw=0.7))

rich(1.5, 6.0, price_title)
rich(1.5, 385.7, macd_title)
rich(1.5, 512.3, rsi_title)
rich(1.5, 639.0, adx_title)

fig.savefig("out.png", dpi=100, facecolor="white")
